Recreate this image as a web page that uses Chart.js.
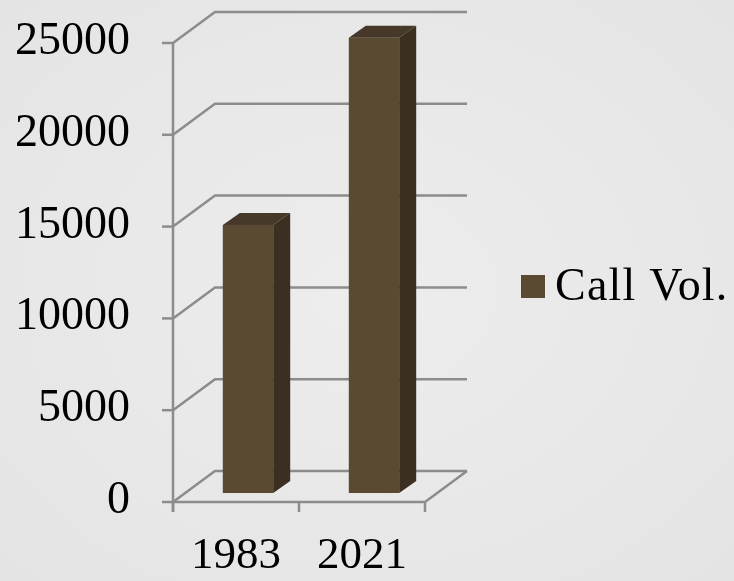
<!DOCTYPE html>
<html>
<head>
    <title>Call Vol.</title>
    <script src="https://cdn.jsdelivr.net/npm/chart.js"></script>
    <style>
        html, body {
            margin: 0;
            padding: 0;
        }
        body {
            background: radial-gradient(ellipse at center, #ededed 0%, #e4e4e4 100%);
            width: 734px;
            height: 581px;
            overflow: hidden;
        }
        .wrap {
            position: relative;
            width: 734px;
            height: 581px;
        }
    </style>
</head>
<body>
    <div class="wrap">
        <canvas id="callChart"></canvas>
    </div>

    <script>
        // Data
        const years = ['1983', '2021'];
        const callVol = [14600, 24800];
        const yTicks = [0, 5000, 10000, 15000, 20000, 25000];
        const seriesName = 'Call Vol.';

        // 3D look: offsets of the front plane and back wall from the bar plane
        const FRONT = { dx: -12, dy: 9 };
        const BACK = { dx: 30, dy: -22 };
        const DEPTH = { dx: 17, dy: -12 }; // bar depth
        const GRID = '#8c8c8c';
        const FONT = '"Liberation Serif", "Times New Roman", serif';

        const threeD = {
            id: 'threeD',
            beforeDatasetsDraw(chart) {
                const { ctx, scales: { x, y } } = chart;
                const left = x.left, right = x.right;
                ctx.save();
                ctx.strokeStyle = GRID;
                ctx.lineWidth = 2.5;
                ctx.lineCap = 'butt';

                // back wall and left wall gridlines
                yTicks.forEach(v => {
                    const py = y.getPixelForValue(v);
                    ctx.beginPath();
                    ctx.moveTo(left + FRONT.dx, py + FRONT.dy);
                    ctx.lineTo(left + BACK.dx, py + BACK.dy);
                    ctx.lineTo(right + BACK.dx, py + BACK.dy);
                    ctx.stroke();
                });

                // floor edges
                const y0 = y.getPixelForValue(0);
                ctx.beginPath();
                ctx.moveTo(left + FRONT.dx, y0 + FRONT.dy);
                ctx.lineTo(right + FRONT.dx, y0 + FRONT.dy);
                ctx.lineTo(right + BACK.dx, y0 + BACK.dy);
                ctx.stroke();

                // front vertical axis
                const yTop = y.getPixelForValue(yTicks[yTicks.length - 1]);
                ctx.beginPath();
                ctx.moveTo(left + FRONT.dx, yTop + FRONT.dy);
                ctx.lineTo(left + FRONT.dx, y0 + FRONT.dy + 10);
                ctx.stroke();

                // y tick marks
                yTicks.forEach(v => {
                    const py = y.getPixelForValue(v) + FRONT.dy;
                    ctx.beginPath();
                    ctx.moveTo(left + FRONT.dx - 11, py);
                    ctx.lineTo(left + FRONT.dx, py);
                    ctx.stroke();
                });

                // x tick marks between categories
                const step = (right - left) / years.length;
                for (let i = 0; i <= years.length; i++) {
                    const px = left + step * i + FRONT.dx;
                    ctx.beginPath();
                    ctx.moveTo(px, y0 + FRONT.dy);
                    ctx.lineTo(px, y0 + FRONT.dy + 10);
                    ctx.stroke();
                }

                // labels
                ctx.fillStyle = '#000000';
                ctx.font = '46px ' + FONT;
                ctx.textAlign = 'right';
                ctx.textBaseline = 'middle';
                yTicks.forEach(v => {
                    ctx.fillText(String(v), 130, y.getPixelForValue(v) + FRONT.dy - 1);
                });
                ctx.font = '45px ' + FONT;
                ctx.textAlign = 'center';
                years.forEach((yr, i) => {
                    ctx.fillText(yr, x.getPixelForValue(i) + FRONT.dx, 556);
                });

                // legend
                ctx.fillStyle = '#5a4a32';
                ctx.fillRect(521, 275, 24, 23);
                ctx.fillStyle = '#000000';
                ctx.textAlign = 'left';
                ctx.font = '46px ' + FONT;
                ctx.letterSpacing = '1.2px';
                ctx.fillText(seriesName, 555, 288);
                ctx.restore();
            },
            afterDatasetsDraw(chart) {
                const { ctx } = chart;
                const meta = chart.getDatasetMeta(0);
                ctx.save();
                meta.data.forEach(bar => {
                    const { x, y, base, width } = bar.getProps(['x', 'y', 'base', 'width'], true);
                    const l = x - width / 2, r = x + width / 2;
                    // top face
                    ctx.fillStyle = '#47392a';
                    ctx.beginPath();
                    ctx.moveTo(l, y);
                    ctx.lineTo(l + DEPTH.dx, y + DEPTH.dy);
                    ctx.lineTo(r + DEPTH.dx, y + DEPTH.dy);
                    ctx.lineTo(r, y);
                    ctx.closePath();
                    ctx.fill();
                    // side face
                    ctx.fillStyle = '#3a2f20';
                    ctx.beginPath();
                    ctx.moveTo(r, y);
                    ctx.lineTo(r + DEPTH.dx, y + DEPTH.dy);
                    ctx.lineTo(r + DEPTH.dx, base + DEPTH.dy);
                    ctx.lineTo(r, base);
                    ctx.closePath();
                    ctx.fill();
                });
                ctx.restore();
            }
        };

        const config = {
            type: 'bar',
            data: {
                labels: years,
                datasets: [{
                    label: seriesName,
                    data: callVol,
                    backgroundColor: '#5a4a32',
                    borderWidth: 0,
                    barPercentage: 0.4,
                    categoryPercentage: 1.0
                }]
            },
            options: {
                responsive: true,
                maintainAspectRatio: false,
                animation: false,
                layout: {
                    padding: { left: 185, right: 297, top: 34, bottom: 88 }
                },
                plugins: {
                    legend: { display: false },
                    tooltip: { enabled: false }
                },
                scales: {
                    x: { display: false, offset: true },
                    y: { display: false, min: 0, max: 25000 }
                }
            },
            plugins: [threeD]
        };

        new Chart(document.getElementById('callChart'), config);
    </script>
</body>
</html>
